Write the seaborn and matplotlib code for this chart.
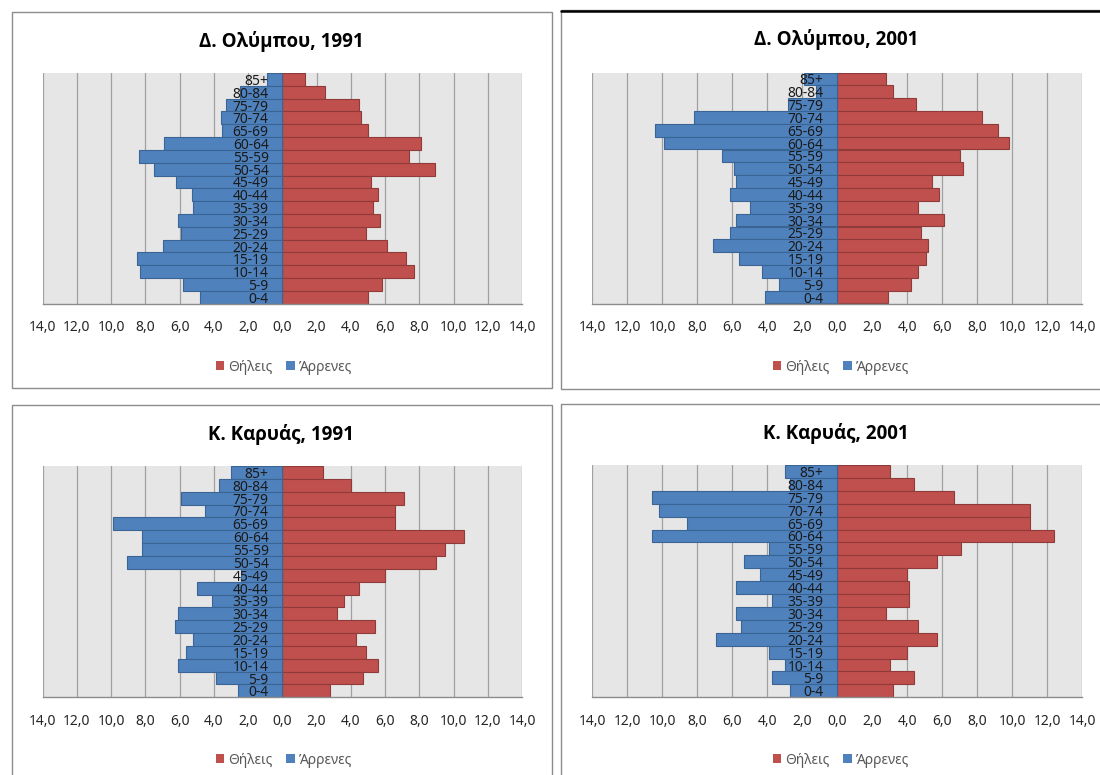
import matplotlib
matplotlib.use("Agg")
import matplotlib.pyplot as plt
from matplotlib.patches import Rectangle
from matplotlib.ticker import FixedLocator, FuncFormatter
import numpy as np
import pandas as pd
import seaborn as sns

# Age groups, youngest first
age_groups = ["0-4", "5-9", "10-14", "15-19", "20-24", "25-29", "30-34", "35-39",
              "40-44", "45-49", "50-54", "55-59", "60-64", "65-69", "70-74",
              "75-79", "80-84", "85+"]

# Share of population (%) per age group
olympou_1991_male = [4.8, 5.8, 8.3, 8.5, 7.0, 5.9, 6.1, 5.2, 5.3, 6.2, 7.5, 8.4, 6.9, 3.5, 3.6, 3.3, 2.5, 0.9]
olympou_1991_female = [5.0, 5.8, 7.7, 7.2, 6.1, 4.9, 5.7, 5.3, 5.6, 5.2, 8.9, 7.4, 8.1, 5.0, 4.6, 4.5, 2.5, 1.3]

olympou_2001_male = [4.1, 3.3, 4.3, 5.6, 7.1, 6.1, 5.8, 5.0, 6.1, 5.8, 5.9, 6.6, 9.9, 10.4, 8.2, 2.8, 1.2, 1.9]
olympou_2001_female = [2.9, 4.2, 4.6, 5.1, 5.2, 4.8, 6.1, 4.6, 5.8, 5.4, 7.2, 7.0, 9.8, 9.2, 8.3, 4.5, 3.2, 2.8]

karyas_1991_male = [2.6, 3.9, 6.1, 5.6, 5.2, 6.3, 6.1, 4.1, 5.0, 2.4, 9.1, 8.2, 8.2, 9.9, 4.5, 5.9, 3.7, 3.0]
karyas_1991_female = [2.8, 4.7, 5.6, 4.9, 4.3, 5.4, 3.2, 3.6, 4.5, 6.0, 9.0, 9.5, 10.6, 6.6, 6.6, 7.1, 4.0, 2.4]

karyas_2001_male = [2.7, 3.7, 3.0, 3.9, 6.9, 5.5, 5.8, 3.7, 5.8, 4.4, 5.3, 3.9, 10.6, 8.6, 10.2, 10.6, 2.7, 3.0]
karyas_2001_female = [3.2, 4.4, 3.0, 4.0, 5.7, 4.6, 2.8, 4.1, 4.1, 4.0, 5.7, 7.1, 12.4, 11.0, 11.0, 6.7, 4.4, 3.0]

titles = ["Δ. Ολύμπου, 1991", "Δ. Ολύμπου, 2001", "Κ. Καρυάς, 1991", "Κ. Καρυάς, 2001"]
female_label = "Θήλεις"
male_label = "Άρρενες"
x_ticks = [-14, -12, -10, -8, -6, -4, -2, 0, 2, 4, 6, 8, 10, 12, 14]

sns.set_style("white")
plt.rcParams["font.family"] = ["Noto Sans", "DejaVu Sans"]

FEMALE_COLOR = "#C0504D"
FEMALE_EDGE = "#8E3B39"
MALE_COLOR = "#4F81BD"
MALE_EDGE = "#3A6494"

W, H = 1100, 775
fig = plt.figure(figsize=(W / 100, H / 100), dpi=100)


def fx(px):
    return px / W


def fy(py):
    return 1 - py / H


# Chart frames (left, top, right, bottom in pixels)
frames = [(12, 12, 552, 388), (561, 10, 1110, 389), (12, 405, 552, 790), (561, 404, 1110, 790)]
for (l, t, r, b) in frames:
    fig.add_artist(Rectangle((fx(l), fy(b)), fx(r - l), (b - t) / H, transform=fig.transFigure,
                             facecolor="white", edgecolor="#8C8C8C", lw=1.0, zorder=0))
# highlighted top edge of the second chart
fig.add_artist(plt.Line2D([fx(561), fx(1100)], [fy(10.5), fy(10.5)], transform=fig.transFigure,
                          color="black", lw=1.8, zorder=1))

# Plot areas (left, top, right, bottom in pixels)
areas = [(42.7, 73, 522, 303.7), (592, 72.5, 1082, 303.5),
         (42.7, 466, 522, 697.3), (592, 465, 1082, 697.3)]
title_pos = [(281, 42), (836, 40), (281, 434), (836, 433)]
legend_pos = [(284, 367), (841, 367), (284, 760), (841, 760)]

datasets = [(olympou_1991_male, olympou_1991_female),
            (olympou_2001_male, olympou_2001_female),
            (karyas_1991_male, karyas_1991_female),
            (karyas_2001_male, karyas_2001_female)]

order = age_groups[::-1]
fmt = FuncFormatter(lambda v, _: f"{abs(v):.1f}".replace(".", ","))

for i, (males, females) in enumerate(datasets):
    l, t, r, b = areas[i]
    ax = fig.add_axes([fx(l), fy(b), fx(r - l), (b - t) / H])
    df = pd.DataFrame({"age": age_groups,
                       "female": females,
                       "male": [-v for v in males]})

    sns.barplot(data=df, x="female", y="age", order=order, orient="h",
                color=FEMALE_COLOR, edgecolor=FEMALE_EDGE, linewidth=0.8,
                width=1.0, saturation=1, errorbar=None, label=female_label, ax=ax)
    sns.barplot(data=df, x="male", y="age", order=order, orient="h",
                color=MALE_COLOR, edgecolor=MALE_EDGE, linewidth=0.8,
                width=1.0, saturation=1, errorbar=None, label=male_label, ax=ax)

    ax.set_xlim(-14, 14)
    ax.set_ylim(len(order) - 0.5, -0.5)
    ax.set_facecolor("#E6E6E6")
    ax.set_xlabel("")
    ax.set_ylabel("")

    ax.xaxis.set_major_locator(FixedLocator(x_ticks))
    ax.xaxis.set_major_formatter(fmt)
    ax.grid(axis="x", color="#A0A0A0", lw=0.9)
    ax.grid(axis="y", visible=False)
    ax.set_axisbelow(True)
    ax.tick_params(axis="x", length=0, pad=12, labelsize=10, labelcolor="#262626")

    # category labels sit at the zero line, on top of the bars
    ax.spines["left"].set_position(("data", 0))
    ax.spines["left"].set_visible(False)
    ax.yaxis.set_zorder(4)
    ax.tick_params(axis="y", length=0, pad=9.8, labelsize=10, labelcolor="#1A1A1A")

    for s in ("top", "right"):
        ax.spines[s].set_visible(False)
    ax.spines["bottom"].set_color("#8C8C8C")
    ax.spines["bottom"].set_linewidth(1.0)

    tx, ty = title_pos[i]
    fig.text(fx(tx), fy(ty), titles[i], ha="center", va="center",
             fontsize=13.5, fontweight="bold", color="black",
             family=["Open Sans", "DejaVu Sans"])

    lx, ly = legend_pos[i]
    handles, labels = ax.get_legend_handles_labels()
    leg = ax.legend(handles, labels, loc="center", bbox_to_anchor=(fx(lx), fy(ly)),
                    bbox_transform=fig.transFigure, ncol=2, frameon=False,
                    fontsize=10, handlelength=0.6, handleheight=0.6,
                    handletextpad=0.3, columnspacing=1.0, borderpad=0)
    for txt in leg.get_texts():
        txt.set_color("#595959")
    for h in leg.legend_handles:
        h.set_linewidth(0)

fig.savefig("out.png", dpi=100)
